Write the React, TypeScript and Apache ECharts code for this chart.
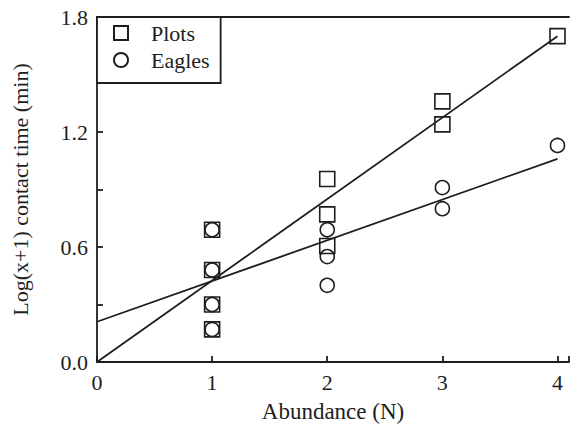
import React, { useEffect, useRef } from "react";
import * as echarts from "echarts";

const plotsX = [1, 1, 1, 1, 2, 2, 2, 3, 3, 4];
const plotsY = [0.69, 0.48, 0.3, 0.17, 0.955, 0.77, 0.605, 1.36, 1.24, 1.7];
const eaglesX = [1, 1, 1, 1, 2, 2, 2, 3, 3, 4];
const eaglesY = [0.69, 0.48, 0.3, 0.17, 0.69, 0.55, 0.4, 0.91, 0.8, 1.13];
const plotsFitX = [0, 4];
const plotsFitY = [0, 1.7];
const eaglesFitX = [0, 4];
const eaglesFitY = [0.21, 1.06];
const xTicks = [0, 1, 2, 3, 4];
const yLabelTicks = [0, 0.6, 1.2, 1.8];

const zip = (xs: number[], ys: number[]) => xs.map((x, i) => [x, ys[i]]);

export default function App() {
  const ref = useRef<HTMLDivElement>(null);
  useEffect(() => {
    if (!ref.current) return;
    const chart = echarts.init(ref.current, undefined, { renderer: "svg" });
    const font = "'Liberation Serif', 'Times New Roman', serif";
    const ink = "#1e1e1e";
    const fs = 22;
    chart.setOption({
      animation: false,
      backgroundColor: "#fff",
      textStyle: { fontFamily: font },
      grid: { left: 97, top: 17, right: 0, bottom: 67 },
      legend: {
        orient: "vertical",
        left: 97,
        top: 17,
        padding: [5, 11, 12, 16],
        itemGap: 5,
        itemWidth: 14,
        itemHeight: 14,
        borderColor: ink,
        borderWidth: 1.8,
        backgroundColor: "#fff",
        textStyle: { fontFamily: font, fontSize: fs, color: ink, padding: [0, 0, 0, 18] },
        data: [
          { name: "Plots", icon: "rect" },
          { name: "Eagles", icon: "circle" },
        ],
      },
      xAxis: [
        {
          type: "value",
          min: 0,
          max: 4.1,
          interval: 1,
          splitLine: { show: false },
          axisLine: { lineStyle: { color: ink, width: 1.8 } },
          axisTick: { inside: true, length: 6, lineStyle: { color: ink, width: 1.8 } },
          axisLabel: {
            color: ink,
            fontSize: fs,
            fontFamily: font,
            margin: 9,
            formatter: (v: number) => (xTicks.includes(v) ? String(v) : ""),
          },
          name: "Abundance (N)",
          nameLocation: "middle",
          nameGap: 38,
          nameTextStyle: { color: ink, fontSize: 23, fontFamily: font },
        },
        {
          type: "value",
          position: "top",
          min: 0,
          max: 4.1,
          axisLine: { show: true, onZero: false, lineStyle: { color: ink, width: 1.8 } },
          axisTick: { show: false },
          axisLabel: { show: false },
          splitLine: { show: false },
        },
      ],
      yAxis: {
        type: "value",
        min: 0,
        max: 1.8,
        interval: 0.3,
        splitLine: { show: false },
        axisLine: { show: true, lineStyle: { color: ink, width: 1.8 } },
        axisTick: { show: true, inside: true, length: 6, lineStyle: { color: ink, width: 1.8 } },
        axisLabel: {
          color: ink,
          fontSize: fs,
          fontFamily: font,
          margin: 9,
          formatter: (v: number) =>
            yLabelTicks.some((t) => Math.abs(t - v) < 1e-6) ? v.toFixed(1) : "",
        },
        name: "Log(x+1) contact time (min)",
        nameLocation: "middle",
        nameGap: 66,
        nameTextStyle: { color: ink, fontSize: fs, fontFamily: font },
      },
      series: [
        {
          type: "line",
          data: zip(plotsFitX, plotsFitY),
          symbol: "none",
          lineStyle: { color: ink, width: 1.8 },
          silent: true,
          z: 1,
        },
        {
          type: "line",
          data: zip(eaglesFitX, eaglesFitY),
          symbol: "none",
          lineStyle: { color: ink, width: 1.8 },
          silent: true,
          z: 1,
        },
        {
          name: "Eagles",
          type: "scatter",
          data: zip(eaglesX, eaglesY),
          symbol: "circle",
          symbolSize: 14,
          itemStyle: { color: "#fff", borderColor: ink, borderWidth: 1.6, opacity: 1 },
          z: 3,
        },
        {
          name: "Plots",
          type: "scatter",
          data: zip(plotsX, plotsY),
          symbol: "rect",
          symbolSize: 15,
          itemStyle: { color: "rgba(255,255,255,0)", borderColor: ink, borderWidth: 1.6, opacity: 1 },
          z: 4,
        },
      ],
    });
    return () => chart.dispose();
  }, []);
  return (
    <div
      ref={ref}
      style={{ position: "absolute", left: 0, top: 0, width: 572, height: 429 }}
    />
  );
}
